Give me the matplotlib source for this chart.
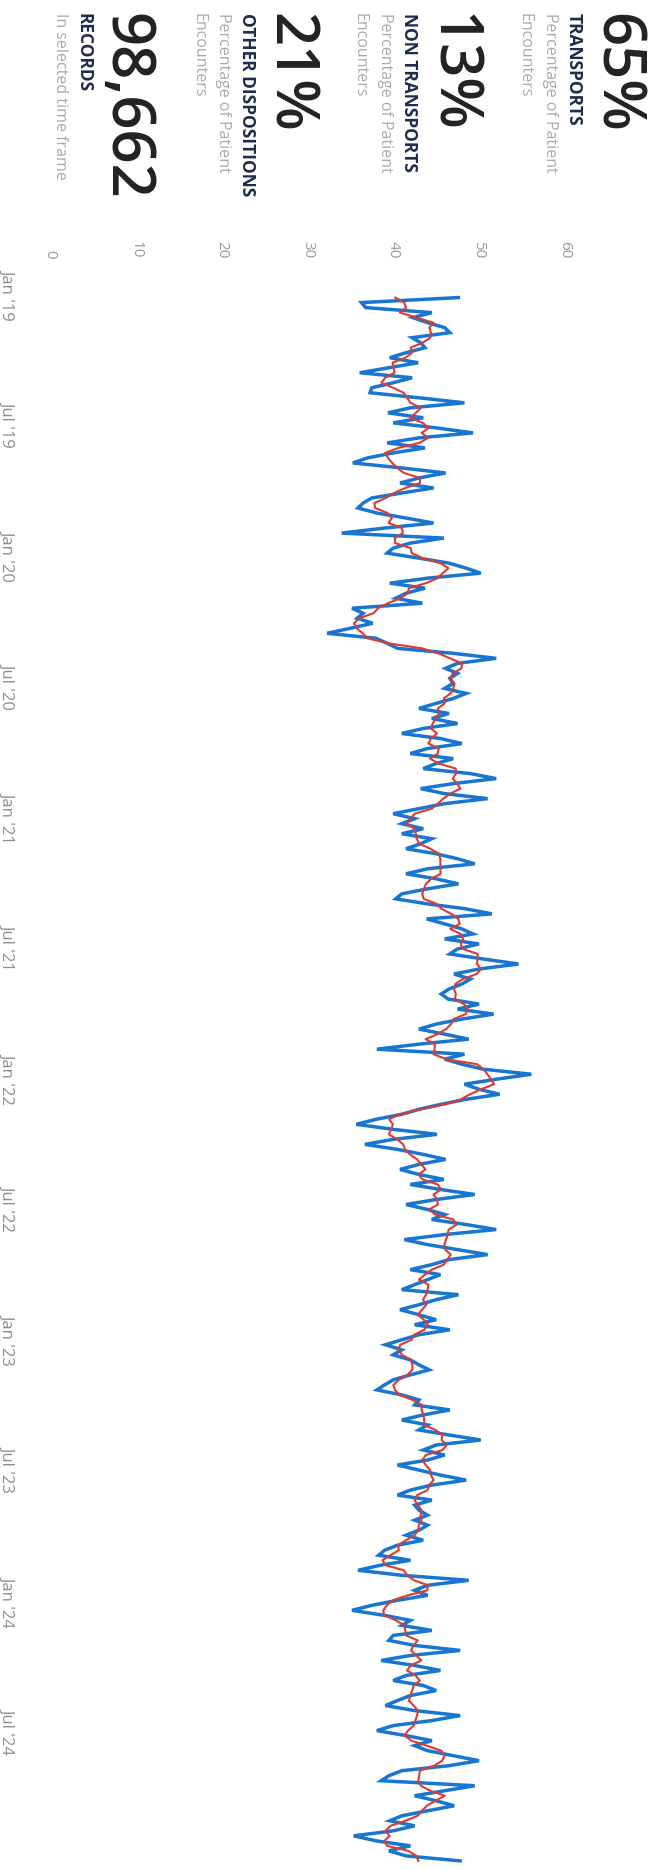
import matplotlib
matplotlib.use("Agg")
import matplotlib.pyplot as plt
import matplotlib.dates as mdates
import pandas as pd

plt.rcParams["font.family"] = ["Open Sans", "DejaVu Sans"]

# ---- data -------------------------------------------------------------
week_start = "2019-01-06"
transport_pct = [
    47.6, 36.3, 36.8, 44.5, 42.3, 44.0, 46.0, 46.6, 42.2, 43.2,
    43.7, 41.5, 39.6, 42.9, 39.5, 36.1, 42.2, 40.0, 37.5, 37.3,
    43.0, 48.3, 42.0, 39.4, 43.5, 40.0, 45.0, 49.3, 43.0, 39.3,
    43.7, 40.0, 37.0, 35.3, 41.0, 46.1, 43.0, 40.8, 44.7, 41.0,
    37.5, 36.5, 35.9, 38.1, 41.5, 44.7, 39.0, 34.0, 45.9, 42.0,
    40.0, 39.3, 43.0, 46.5, 48.5, 50.2, 44.0, 39.6, 43.7, 41.5,
    40.3, 43.4, 35.2, 36.5, 35.8, 37.6, 35.0, 32.3, 38.0, 39.3,
    40.5, 47.0, 52.0, 47.5, 46.1, 47.5, 46.6, 47.0, 46.0, 48.5,
    47.0, 45.0, 43.0, 46.5, 44.5, 47.5, 43.5, 41.0, 45.5, 48.0,
    44.0, 42.0, 47.0, 45.0, 43.5, 49.0, 52.0, 47.0, 43.2, 46.0,
    51.0, 46.0, 43.0, 40.0, 42.5, 41.0, 43.5, 41.0, 44.5, 43.2,
    41.5, 45.0, 47.5, 49.5, 44.0, 41.5, 45.0, 47.6, 44.0, 41.0,
    40.3, 44.0, 48.5, 51.5, 43.9, 46.0, 48.0, 49.3, 46.0, 50.0,
    47.5, 46.6, 50.5, 54.6, 50.0, 47.1, 49.0, 48.0, 46.5, 45.6,
    46.4, 50.0, 47.5, 51.7, 48.0, 45.0, 43.0, 46.0, 48.8, 43.0,
    38.1, 48.3, 46.0, 48.0, 50.5, 56.1, 52.0, 48.3, 50.0, 52.4,
    48.5, 45.6, 43.0, 41.0, 38.0, 35.7, 40.0, 45.1, 40.0, 36.7,
    40.5, 43.5, 46.1, 43.0, 40.8, 43.0, 45.9, 42.0, 45.5, 49.5,
    45.0, 41.5, 44.0, 46.0, 44.5, 48.5, 52.0, 46.0, 41.3, 44.0,
    47.5, 51.0, 46.5, 44.5, 42.0, 45.5, 44.0, 42.5, 41.0, 47.6,
    45.0, 43.0, 40.8, 43.0, 45.0, 42.5, 46.6, 43.0, 41.0, 39.1,
    41.0, 40.0, 42.0, 43.0, 44.2, 42.0, 40.0, 39.0, 38.1, 41.0,
    43.0, 42.5, 46.6, 43.5, 41.0, 44.0, 43.0, 46.5, 50.2, 45.0,
    43.5, 46.0, 44.0, 40.5, 43.0, 45.5, 48.5, 44.5, 42.0, 40.5,
    44.5, 42.5, 43.0, 44.0, 42.5, 44.0, 43.0, 41.5, 43.5, 40.5,
    39.0, 38.3, 42.0, 38.5, 35.9, 41.0, 48.8, 44.0, 42.5, 44.0,
    40.5, 37.5, 35.2, 39.0, 42.0, 41.0, 44.5, 40.0, 39.5, 42.5,
    47.8, 42.0, 38.6, 42.5, 45.5, 41.5, 40.0, 43.5, 45.0, 42.0,
    40.5, 39.1, 42.5, 47.8, 44.5, 40.0, 38.1, 41.5, 44.5, 42.5,
    44.0, 47.0, 50.0, 46.5, 41.0, 39.5, 38.6, 49.5, 46.0, 42.5,
    45.0, 47.1, 44.0, 41.0, 39.6, 42.5, 40.0, 35.4, 38.0, 42.0,
    39.5, 41.5, 47.8,
]
value_ticks = [0, 10, 20, 30, 40, 50, 60]
date_ticks = ["2019-01-01", "2019-07-01", "2020-01-01", "2020-07-01",
              "2021-01-01", "2021-07-01", "2022-01-01", "2022-07-01",
              "2023-01-01", "2023-07-01", "2024-01-01", "2024-07-01"]
date_tick_labels = ["Jan '19", "Jul '19", "Jan '20", "Jul '20", "Jan '21",
                    "Jul '21", "Jan '22", "Jul '22", "Jan '23", "Jul '23",
                    "Jan '24", "Jul '24"]

kpi_values = ["65%", "13%", "21%", "98,662"]
kpi_titles = ["TRANSPORTS", "NON TRANSPORTS", "OTHER DISPOSITIONS", "RECORDS"]
kpi_notes = [["Percentage of Patient", "Encounters"],
             ["Percentage of Patient", "Encounters"],
             ["Percentage of Patient", "Encounters"],
             ["In selected time frame"]]

# ---- series -----------------------------------------------------------
dates = pd.date_range(week_start, periods=len(transport_pct), freq="7D")
series = pd.Series(transport_pct, index=dates)
trend = series.rolling(5, center=True, min_periods=1).mean()

# ---- figure (dashboard tile turned a quarter clockwise) ---------------
W, H = 653, 1869
fig = plt.figure(figsize=(W / 100, H / 100), dpi=100)
fig.patch.set_facecolor("white")


def fx(px):
    return px / W


def fy(py):
    return 1 - py / H


axes_left, axes_top = 50, 268
ax = fig.add_axes([fx(axes_left), 0, 1 - fx(axes_left), (H - axes_top) / H])
ax.set_facecolor("white")

blue = "#1676d2"
red = "#e0392d"
ax.plot(series.values, mdates.date2num(series.index), color=blue, lw=2.5,
        solid_joinstyle="miter", zorder=2)
ax.plot(trend.values, mdates.date2num(trend.index), color=red, lw=1.5,
        zorder=3)

px_per_unit = 8.58
px_per_day = 0.7158
anchor = mdates.date2num(pd.Timestamp("2019-01-01"))
ax.set_xlim(0, (W - axes_left) / px_per_unit)
ax.set_ylim(anchor + (H - 294) / px_per_day, anchor - (294 - axes_top) / px_per_day)

for s in ax.spines.values():
    s.set_visible(False)
ax.grid(False)

# value axis along the top
ax.xaxis.tick_top()
ax.set_xticks(value_ticks)
ax.set_xticklabels([str(v) for v in value_ticks])
ax.tick_params(axis="x", length=0, pad=7, labelsize=11, labelcolor="#9a9a9a")
for lab in ax.get_xticklabels():
    lab.set_rotation(-90)
    lab.set_ha("center")
    lab.set_va("bottom")

# date axis down the left
ax.set_yticks(mdates.date2num(pd.to_datetime(date_ticks)))
ax.set_yticklabels(date_tick_labels)
ax.tick_params(axis="y", length=0, pad=25, labelsize=12, labelcolor="#8e8e8e")
for lab in ax.get_yticklabels():
    lab.set_rotation(-90)
    lab.set_ha("right")
    lab.set_va("center")

# KPI cards
card_baselines = [600, 435, 273, 110]
for base, val, title, notes in zip(card_baselines, kpi_values, kpi_titles, kpi_notes):
    kw = dict(rotation=-90, rotation_mode="anchor", ha="left", va="baseline")
    fig.text(fx(base), fy(13), val, fontsize=43, fontweight="semibold",
             color="#222222", **kw)
    fig.text(fx(base - 31), fy(13), title, fontsize=12.5, fontweight="bold",
             color="#1d2b4f", **kw)
    for k, line in enumerate(notes):
        fig.text(fx(base - 54 - 25 * k), fy(13), line, fontsize=11.5,
                 color="#ababab", **kw)

fig.savefig("out.png", dpi=100, facecolor="white")
